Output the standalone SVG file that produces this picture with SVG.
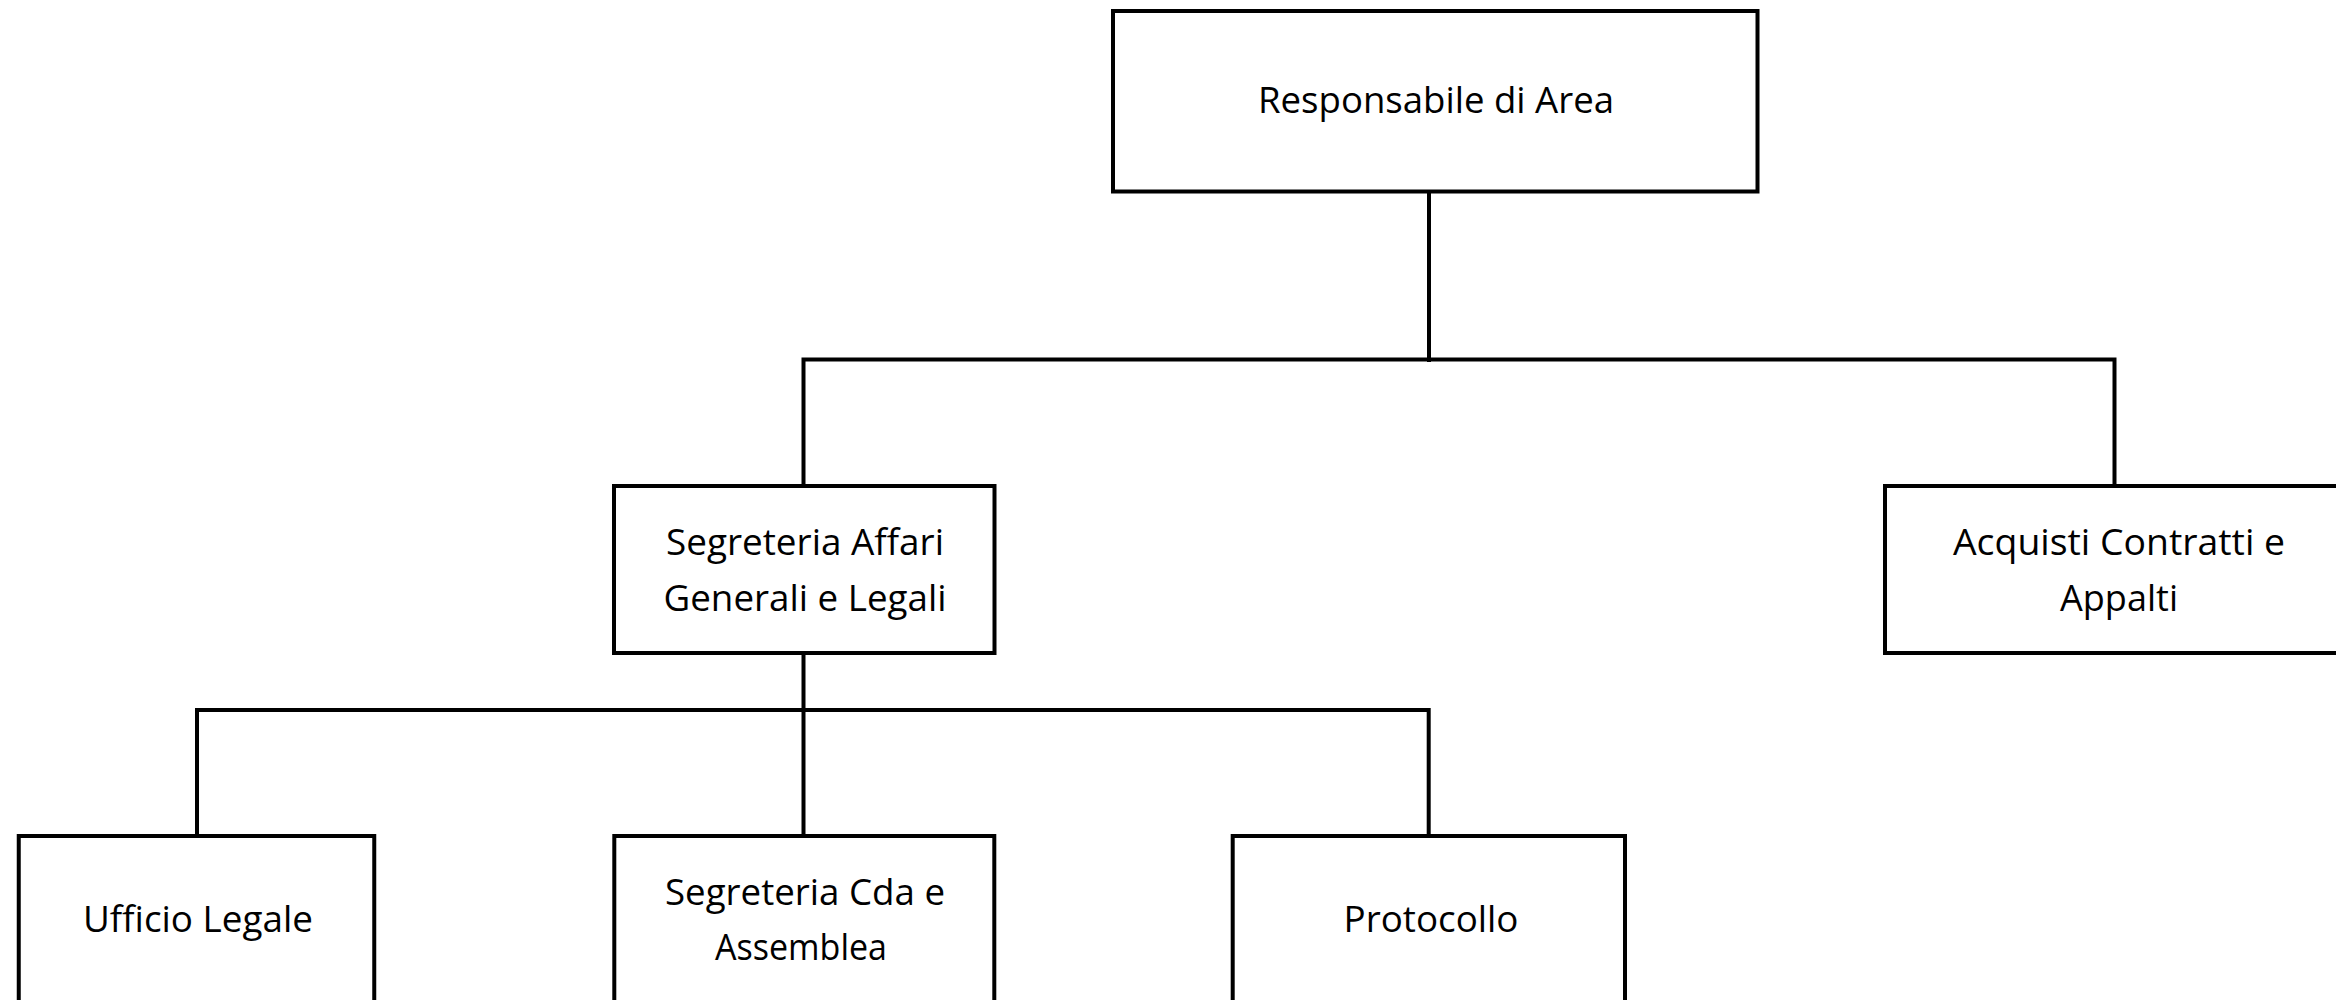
<svg xmlns="http://www.w3.org/2000/svg" width="2336" height="1000" viewBox="0 0 2336 1000">
<style>
.box{fill:#ffffff;stroke:#000000;stroke-width:4}
.con{fill:none;stroke:#000000;stroke-width:4}
.lbl{font-family:"Open Sans","Noto Sans","Liberation Sans",sans-serif;font-size:36px;fill:#000000;text-anchor:middle}
</style>
<rect width="2336" height="1000" fill="#ffffff"/>
<g id="connectors">
<line class="con" x1="1429" y1="191" x2="1429" y2="362"/>
<polyline class="con" points="803.5,486 803.5,359.5 2114.5,359.5 2114.5,486"/>
<line class="con" x1="803.5" y1="653" x2="803.5" y2="836"/>
<polyline class="con" points="197,836 197,710 1428.7,710 1428.7,836"/>
</g>
<g id="node-responsabile">
<rect class="box" x="1113" y="11" width="644.5" height="180.5"/>
<text class="lbl" x="1436" y="113" textLength="356" lengthAdjust="spacingAndGlyphs">Responsabile di Area</text>
</g>
<g id="node-segreteria-affari">
<rect class="box" x="614" y="486" width="380.5" height="167"/>
<text class="lbl" x="805" y="555" textLength="278" lengthAdjust="spacingAndGlyphs">Segreteria Affari</text>
<text class="lbl" x="805" y="611" textLength="283" lengthAdjust="spacingAndGlyphs">Generali e Legali</text>
</g>
<g id="node-acquisti">
<rect class="box" x="1885" y="486" width="470" height="167"/>
<text class="lbl" x="2119" y="555" textLength="332" lengthAdjust="spacingAndGlyphs">Acquisti Contratti e</text>
<text class="lbl" x="2119" y="611" textLength="118" lengthAdjust="spacingAndGlyphs">Appalti</text>
</g>
<g id="node-ufficio-legale">
<rect class="box" x="18.75" y="836" width="355.5" height="167"/>
<text class="lbl" x="198" y="932" textLength="230" lengthAdjust="spacingAndGlyphs">Ufficio Legale</text>
</g>
<g id="node-segreteria-cda">
<rect class="box" x="614.3" y="836" width="380" height="167"/>
<text class="lbl" x="805" y="905" textLength="280" lengthAdjust="spacingAndGlyphs">Segreteria Cda e</text>
<text class="lbl" x="801" y="960" textLength="172" lengthAdjust="spacingAndGlyphs">Assemblea</text>
</g>
<g id="node-protocollo">
<rect class="box" x="1232.7" y="836" width="392.3" height="167"/>
<text class="lbl" x="1431" y="932" textLength="175" lengthAdjust="spacingAndGlyphs">Protocollo</text>
</g>
</svg>
